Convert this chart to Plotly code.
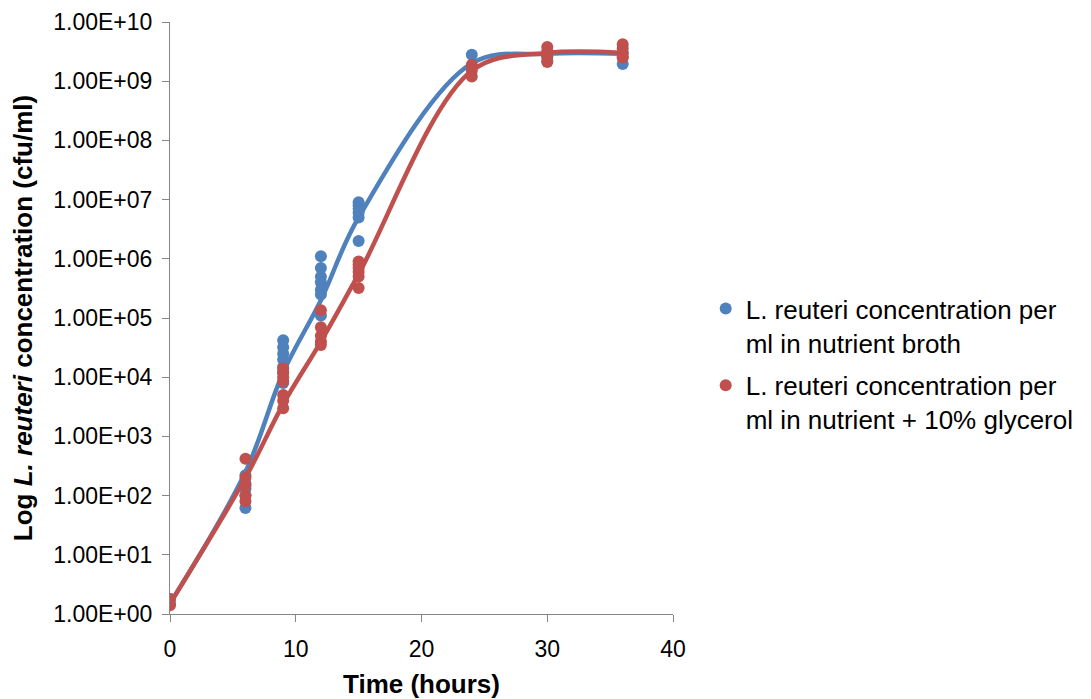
import plotly.graph_objects as go

# Raw observations (time in hours, concentration in cfu/ml)
broth_t = [0, 0, 6, 6, 6, 6, 6, 9, 9, 9, 9, 9, 9, 9, 12, 12, 12, 12, 12, 12, 12,
           15, 15, 15, 15, 15, 15, 24, 30, 30, 30, 36, 36, 36]
broth_y = [1.8, 1.5, 62, 100, 130, 160, 220, 42000, 32000, 25000, 20000, 15000, 12000, 8000,
           1.1e6, 7e5, 5e5, 4e5, 3e5, 2.5e5, 1.1e5,
           9e6, 8e6, 7e6, 6e6, 5e6, 2e6, 2.8e9, 2.2e9, 2.6e9, 3.0e9, 1.95e9, 2.6e9, 3.0e9]

glyc_t = [0, 0, 6, 6, 6, 6, 6, 9, 9, 9, 9, 9, 9, 9, 12, 12, 12, 12, 12,
          15, 15, 15, 15, 15, 15, 24, 24, 24, 30, 30, 30, 30, 36, 36, 36, 36]
glyc_y = [1.8, 1.4, 420, 200, 150, 100, 80, 14000, 12000, 10000, 8500, 5000, 4000, 3000,
          1.35e5, 7e4, 5e4, 4e4, 3.5e4,
          9e5, 8e5, 7e5, 6e5, 5e5, 3.2e5, 1.9e9, 1.5e9, 1.2e9, 3.8e9, 3.2e9, 2.6e9, 2.1e9,
          4.2e9, 3.6e9, 3.0e9, 2.5e9]

# Smoothed trend lines
trend_t = [0, 6, 9, 12, 15, 24, 30, 36]
broth_trend = [1.5, 250, 1.2e4, 2.0e5, 5.0e6, 2.0e9, 2.9e9, 2.9e9]
glyc_trend = [1.5, 200, 3.5e3, 4.0e4, 5.5e5, 1.5e9, 3.0e9, 3.0e9]

tick_vals = [1e0, 1e1, 1e2, 1e3, 1e4, 1e5, 1e6, 1e7, 1e8, 1e9, 1e10]
tick_text = ["1.00E+00", "1.00E+01", "1.00E+02", "1.00E+03", "1.00E+04", "1.00E+05",
             "1.00E+06", "1.00E+07", "1.00E+08", "1.00E+09", "1.00E+10"]

BLUE = "#4F81BD"
RED = "#C0504D"

fig = go.Figure()
fig.add_trace(go.Scatter(x=trend_t, y=broth_trend, mode="lines", line=dict(color=BLUE, width=4.5, shape="spline", smoothing=1.0),
                         showlegend=False, hoverinfo="skip"))
fig.add_trace(go.Scatter(x=broth_t, y=broth_y, mode="markers", marker=dict(color=BLUE, size=12),
                         name="L. reuteri concentration per<br>ml in nutrient broth", legendgroup="a"))
fig.add_trace(go.Scatter(x=trend_t, y=glyc_trend, mode="lines", line=dict(color=RED, width=4.5, shape="spline", smoothing=1.0),
                         showlegend=False, hoverinfo="skip"))
fig.add_trace(go.Scatter(x=glyc_t, y=glyc_y, mode="markers", marker=dict(color=RED, size=12),
                         name="L. reuteri concentration per<br>ml in nutrient + 10% glycerol", legendgroup="b"))

axis_common = dict(showline=True, linecolor="#868686", linewidth=1, ticks="outside", tickcolor="#868686",
                   ticklen=7, showgrid=False, zeroline=False, automargin=False,
                   tickfont=dict(family="Liberation Sans, Arial", size=23, color="#000000"))

fig.update_layout(
    width=1091, height=699,
    margin=dict(l=170, r=416, t=22, b=85),
    paper_bgcolor="white", plot_bgcolor="white",
    font=dict(family="Liberation Sans, Arial", color="#000000"),
    xaxis=dict(range=[0, 40], tickvals=[0, 10, 20, 30, 40], ticklabelstandoff=7,
               title=dict(text="<b>Time (hours)</b>", font=dict(size=26), standoff=14), **axis_common),
    yaxis=dict(type="log", range=[0, 10], tickvals=tick_vals, ticktext=tick_text, ticklabelstandoff=5,
               title=dict(text="<b>Log <i>L. reuteri</i> concentration (cfu/ml)</b>", font=dict(size=26), standoff=13),
               **axis_common),
    legend=dict(x=1.065, y=0.422, xanchor="left", yanchor="middle", font=dict(size=26),
                tracegroupgap=6, itemwidth=30, valign="top", bgcolor="rgba(0,0,0,0)"),
    showlegend=True,
)

fig.write_html("out.html")
